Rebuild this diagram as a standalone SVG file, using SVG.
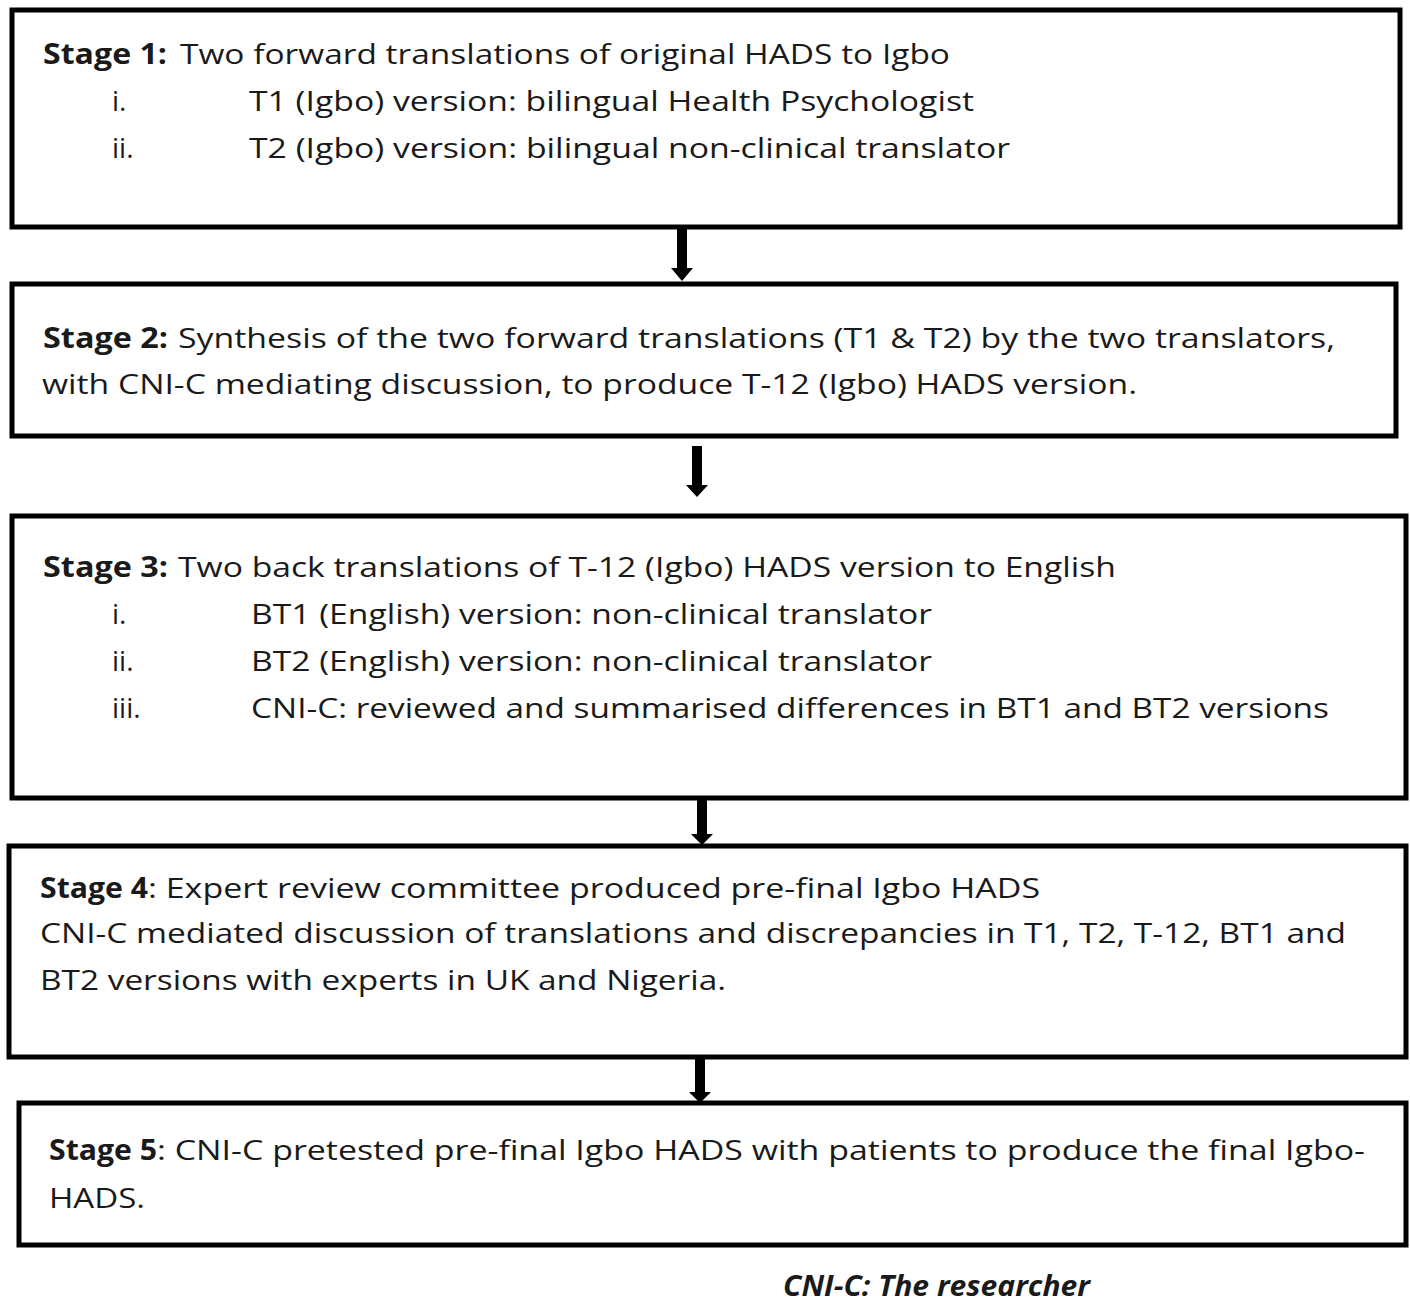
<svg xmlns="http://www.w3.org/2000/svg" width="1410" height="1305" viewBox="0 0 1410 1305">
<style>
.box{fill:#fff;stroke:#000;stroke-width:5}
.t{font-family:"Open Sans","Noto Sans","Liberation Sans",sans-serif;font-size:28px;fill:#1a1a1a}
.b{font-weight:bold}
.arr{fill:#000}
</style>
<rect width="1410" height="1305" fill="#fff"/>
<g id="stage1">
<rect class="box" x="12" y="10" width="1388" height="217"/>
<text class="t b" x="43" y="64" textLength="124" lengthAdjust="spacingAndGlyphs">Stage 1:</text>
<text class="t" x="180" y="64" textLength="770" lengthAdjust="spacingAndGlyphs">Two forward translations of original HADS to Igbo</text>
<text class="t" x="112" y="111">i.</text>
<text class="t" x="249" y="111" textLength="725" lengthAdjust="spacingAndGlyphs">T1 (Igbo) version: bilingual Health Psychologist</text>
<text class="t" x="112" y="158">ii.</text>
<text class="t" x="249" y="158" textLength="761" lengthAdjust="spacingAndGlyphs">T2 (Igbo) version: bilingual non-clinical translator</text>
</g>
<g id="stage2">
<rect class="box" x="12" y="284" width="1384" height="152"/>
<text class="t b" x="43" y="348" textLength="125" lengthAdjust="spacingAndGlyphs">Stage 2:</text>
<text class="t" x="178" y="348" textLength="1157" lengthAdjust="spacingAndGlyphs">Synthesis of the two forward translations (T1 &amp; T2) by the two translators,</text>
<text class="t" x="42" y="394" textLength="1095" lengthAdjust="spacingAndGlyphs">with CNI-C mediating discussion, to produce T-12 (Igbo) HADS version.</text>
</g>
<g id="stage3">
<rect class="box" x="12" y="516" width="1394" height="282"/>
<text class="t b" x="43" y="577" textLength="125" lengthAdjust="spacingAndGlyphs">Stage 3:</text>
<text class="t" x="178" y="577" textLength="938" lengthAdjust="spacingAndGlyphs">Two back translations of T-12 (Igbo) HADS version to English</text>
<text class="t" x="112" y="624">i.</text>
<text class="t" x="251" y="624" textLength="681" lengthAdjust="spacingAndGlyphs">BT1 (English) version: non-clinical translator</text>
<text class="t" x="112" y="671">ii.</text>
<text class="t" x="251" y="671" textLength="681" lengthAdjust="spacingAndGlyphs">BT2 (English) version: non-clinical translator</text>
<text class="t" x="112" y="718">iii.</text>
<text class="t" x="251" y="718" textLength="1078" lengthAdjust="spacingAndGlyphs">CNI-C: reviewed and summarised differences in BT1 and BT2 versions</text>
</g>
<g id="stage4">
<rect class="box" x="9" y="846" width="1397" height="211"/>
<text class="t b" x="40" y="898" textLength="108" lengthAdjust="spacingAndGlyphs">Stage 4</text>
<text class="t" x="148" y="898" textLength="892" lengthAdjust="spacingAndGlyphs">: Expert review committee produced pre-final Igbo HADS</text>
<text class="t" x="40" y="943" textLength="1306" lengthAdjust="spacingAndGlyphs">CNI-C mediated discussion of translations and discrepancies in T1, T2, T-12, BT1 and</text>
<text class="t" x="40" y="990" textLength="686" lengthAdjust="spacingAndGlyphs">BT2 versions with experts in UK and Nigeria.</text>
</g>
<g id="stage5">
<rect class="box" x="19" y="1103" width="1387" height="142"/>
<text class="t b" x="49" y="1160" textLength="108" lengthAdjust="spacingAndGlyphs">Stage 5</text>
<text class="t" x="157" y="1160" textLength="1208" lengthAdjust="spacingAndGlyphs">: CNI-C pretested pre-final Igbo HADS with patients to produce the final Igbo-</text>
<text class="t" x="49" y="1208" textLength="96" lengthAdjust="spacingAndGlyphs">HADS.</text>
</g>
<g id="note">
<text class="t b" x="783" y="1296" font-size="26" font-style="italic" textLength="307" lengthAdjust="spacingAndGlyphs">CNI-C: The researcher</text>
</g>
<g id="connectors">
<path class="arr" d="M677 228 H687 V268 H693 L682 281 L671 268 H677 Z"/>
<path class="arr" d="M692 446 H702 V485 H708 L697 497 L686 485 H692 Z"/>
<path class="arr" d="M697 800 H707 V834 H713 L702 845 L691 834 H697 Z"/>
<path class="arr" d="M695 1059 H705 V1092 H711 L700 1103 L689 1092 H695 Z"/>
</g>
</svg>
